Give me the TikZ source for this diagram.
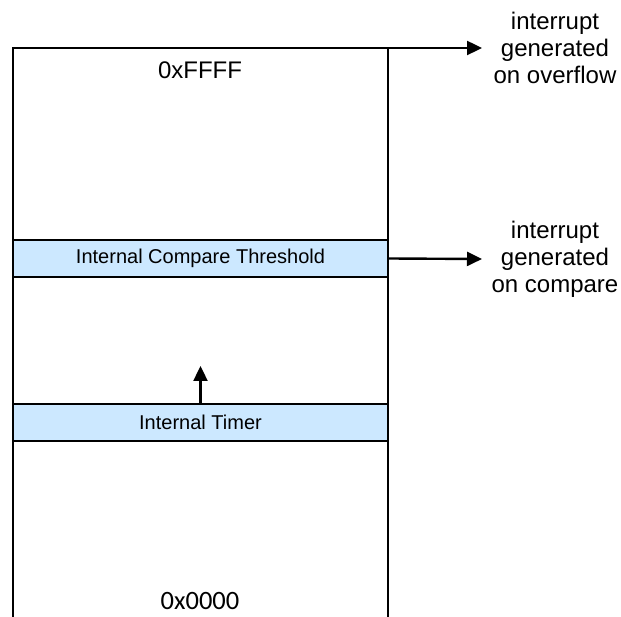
\documentclass[tikz,border=0pt]{standalone}
\usepackage{fontspec}
\setmainfont{Liberation Sans}
\newfontfamily\calfont{Carlito}
\usetikzlibrary{arrows.meta}
\definecolor{boxblue}{RGB}{204,232,255}
\begin{document}
\begin{tikzpicture}[x=1pt,y=-1pt,
  wire/.style={line width=2.4pt},
  arr/.style={line width=2.4pt,-{Triangle[length=15pt,width=14pt]}},
  band/.style={draw,line width=2.4pt,fill=boxblue,minimum width=375pt,minimum height=37pt,inner sep=0pt,font=\fontsize{20}{24}\selectfont},
  big/.style={font=\fontsize{24}{27}\selectfont,align=center,inner sep=0pt}]
\useasboundingbox (0,0) rectangle (621,617);
\coordinate (tl) at (13,48);
\coordinate (tr) at (388,48);
\coordinate (bl) at (13,618);
\coordinate (br) at (388,618);
\draw[wire] (bl) -- (tl) -- (tr);
\draw[wire] (tr) -- (br);
\node[band] (cmp) at (200.5,258.5) {Internal Compare Threshold};
\node[band] (tmr) at (200.5,422.5) {Internal Timer};
\node[big] (ovf) at (555,48) {interrupt\\generated\\on overflow};
\node[big] (cpl) at (555,259) {interrupt\\generated\\on compare};
\node[big] (hi) at (200,70) {0xFFFF};
\node[inner sep=0pt,font=\calfont\fontsize{26.5}{30}\selectfont] (lo) at (200,601) {0x0000};
\coordinate (up) at (200.5,366);
\coordinate (e1) at (482,48);
\coordinate (e2) at (482,259);
\draw[arr] (tr) -- (e1);
\draw[arr] (cmp.east) -- (e2);
\draw[arr] (tmr.north) -- (up);
\end{tikzpicture}
\end{document}
